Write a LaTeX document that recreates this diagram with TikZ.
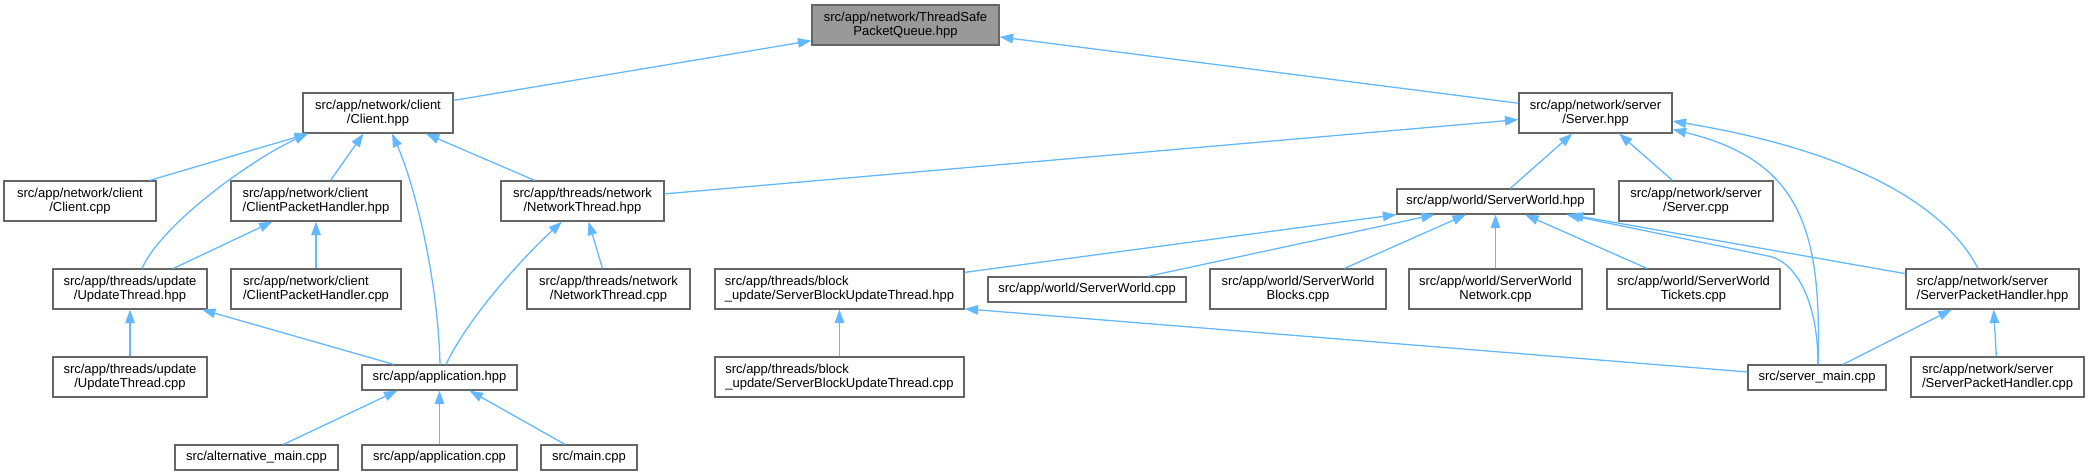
\documentclass[tikz,border=0pt]{standalone}
\usepackage{fontspec}
\setmainfont{Liberation Sans}
\usetikzlibrary{arrows.meta}
\definecolor{edgeblue}{HTML}{63B8FF}
\definecolor{boxborder}{HTML}{666666}
\definecolor{rootfill}{HTML}{999999}
\begin{document}
\begin{tikzpicture}[x=1pt,y=-1pt,
  box/.style={draw=boxborder, line width=1.2pt, fill=white, inner sep=0pt,
    minimum height=40pt, font=\fontsize{13}{14.5}\selectfont, align=center},
  lbox/.style={box, align=left},
  sbox/.style={box, minimum height=25pt},
  edge/.style={draw=edgeblue, line width=1.3pt, -{Triangle[length=13.5pt,width=9.5pt]}}]
\useasboundingbox (0,0) rectangle (2095,476);
% nodes
\node[box, fill=rootfill, minimum width=187pt] (tspq) at (905.5,25) {src/app/network/ThreadSafe\\PacketQueue.hpp};
\node[box, minimum width=150pt] (clienthpp) at (378,113) {src/app/network/client\\/Client.hpp};
\node[box, minimum width=153pt] (serverhpp) at (1595.5,113) {src/app/network/server\\/Server.hpp};
\node[box, minimum width=152pt] (clientcpp) at (80,201) {src/app/network/client\\/Client.cpp};
\node[lbox, minimum width=170pt] (cphhpp) at (316,201) {src/app/network/client\\/ClientPacketHandler.hpp};
\node[box, minimum width=163pt] (nthpp) at (582.5,201) {src/app/threads/network\\/NetworkThread.hpp};
\node[sbox, minimum width=197pt] (swhpp) at (1495.5,201.5) {src/app/world/ServerWorld.hpp};
\node[box, minimum width=154pt] (servercpp) at (1696,201) {src/app/network/server\\/Server.cpp};
\node[box, minimum width=154pt] (uthpp) at (130,289) {src/app/threads/update\\/UpdateThread.hpp};
\node[lbox, minimum width=170pt] (cphcpp) at (316,289) {src/app/network/client\\/ClientPacketHandler.cpp};
\node[box, minimum width=163pt] (ntcpp) at (608.5,289) {src/app/threads/network\\/NetworkThread.cpp};
\node[lbox, minimum width=249pt] (sbuthpp) at (839.5,289) {src/app/threads/block\\\_update/ServerBlockUpdateThread.hpp};
\node[sbox, minimum width=198pt] (swcpp) at (1087,289.5) {src/app/world/ServerWorld.cpp};
\node[box, minimum width=176pt] (swblocks) at (1298,289) {src/app/world/ServerWorld\\Blocks.cpp};
\node[box, minimum width=173pt] (swnet) at (1495.5,289) {src/app/world/ServerWorld\\Network.cpp};
\node[box, minimum width=173pt] (swtick) at (1693.5,289) {src/app/world/ServerWorld\\Tickets.cpp};
\node[lbox, minimum width=173pt] (sphhpp) at (1992.5,289) {src/app/network/server\\/ServerPacketHandler.hpp};
\node[box, minimum width=154pt] (utcpp) at (130,377) {src/app/threads/update\\/UpdateThread.cpp};
\node[sbox, minimum width=155pt] (apphpp) at (439.5,377.5) {src/app/application.hpp};
\node[lbox, minimum width=249pt] (sbutcpp) at (839.5,377) {src/app/threads/block\\\_update/ServerBlockUpdateThread.cpp};
\node[sbox, minimum width=138pt] (servermain) at (1817,377.5) {src/server\_main.cpp};
\node[lbox, minimum width=173pt] (sphcpp) at (1997.5,377) {src/app/network/server\\/ServerPacketHandler.cpp};
\node[sbox, minimum width=163pt] (altmain) at (256.5,457.5) {src/alternative\_main.cpp};
\node[sbox, minimum width=155pt] (appcpp) at (439.5,457.5) {src/app/application.cpp};
\node[sbox, minimum width=96pt] (maincpp) at (589,457.5) {src/main.cpp};
% edges
\draw[edge] (clienthpp) -- (tspq);
\draw[edge] (serverhpp) -- (tspq);
\draw[edge] (clientcpp) -- (clienthpp);
\draw[edge] ([xshift=12pt]uthpp.north) .. controls +(20,-45) and +(-55,25) .. ([xshift=-70pt]clienthpp.south);
\draw[edge] (cphhpp) -- (clienthpp);
\draw[edge] ([xshift=0.5pt]apphpp.north) .. controls +(-2,-85) and +(23,52) .. ([xshift=14pt]clienthpp.south);
\draw[edge] (nthpp) -- (clienthpp);
\draw[edge] (uthpp) -- (cphhpp);
\draw[edge] (cphcpp) -- (cphhpp);
\draw[edge] ([xshift=6.5pt]apphpp.north) .. controls +(24,-50) and +(-37,34) .. ([xshift=-20.5pt]nthpp.south);
\draw[edge] (ntcpp) -- (nthpp);
\draw[edge] (utcpp) -- (uthpp);
\draw[edge] (apphpp) -- (uthpp);
\draw[edge] ([xshift=27pt]altmain.north) -- ([xshift=-42pt]apphpp.south);
\draw[edge] (appcpp) -- (apphpp);
\draw[edge] ([xshift=-24pt]maincpp.north) -- ([xshift=30pt]apphpp.south);
\draw[edge] (nthpp) -- (serverhpp);
\draw[edge] (swhpp) -- (serverhpp);
\draw[edge] (servercpp) -- (serverhpp);
\draw[edge] ([xshift=1pt]servermain.north) .. controls +(4,-135) and +(128,31) .. (serverhpp.-12);
\draw[edge] ([xshift=-14.5pt]sphhpp.north) .. controls +(-28,-54) and +(198,33) .. (serverhpp.-6.7);
\draw[edge] (sbuthpp) -- (swhpp);
\draw[edge] (swcpp) -- (swhpp);
\draw[edge] (swblocks) -- (swhpp);
\draw[edge] (swnet) -- (swhpp);
\draw[edge] (swtick) -- (swhpp);
\draw[edge] ([xshift=1pt]servermain.north) .. controls +(0,-65) and +(25,6) .. +(-48,-108) -- ([xshift=71pt]swhpp.south);
\draw[edge] (sphhpp) -- (swhpp);
\draw[edge] (sbutcpp) -- (sbuthpp);
\draw[edge] (servermain) -- (sbuthpp.-9);
\draw[edge] (servermain) -- (sphhpp);
\draw[edge] (sphcpp) -- (sphhpp);
\end{tikzpicture}
\end{document}
